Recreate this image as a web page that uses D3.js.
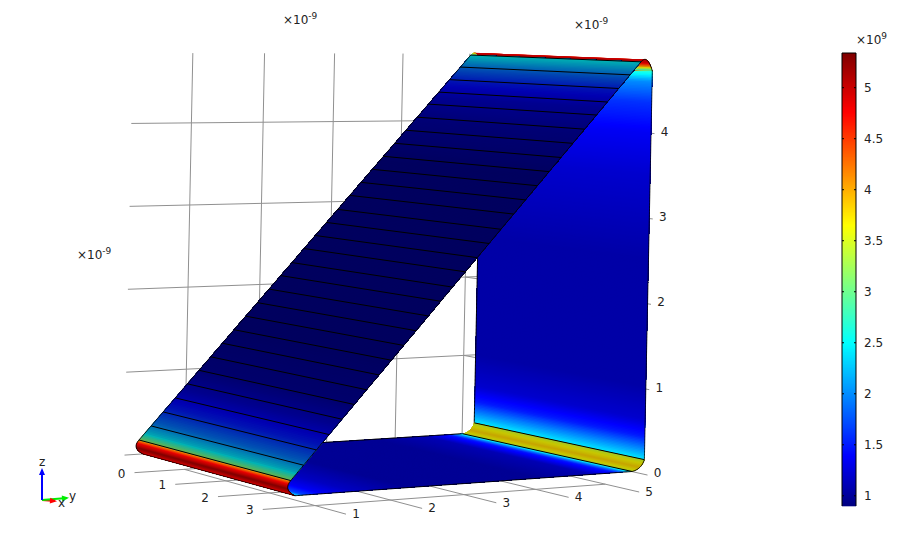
<!DOCTYPE html>
<html><head><meta charset="utf-8">
<script src="https://cdnjs.cloudflare.com/ajax/libs/d3/7.8.5/d3.min.js"></script>
<style>html,body{margin:0;padding:0;background:#fff}svg{display:block}text{font-family:"DejaVu Sans",sans-serif;font-size:12px;fill:#222}</style>
</head><body><svg id="c" width="911" height="542"></svg>
<script>
// axis ticks
const xTicks=[0,1,2,3], yTicks=[1,2,3,4,5], zTicks=[0,1,2,3,4], cbTicks=[1,1.5,2,2.5,3,3.5,4,4.5,5];
const gridFloor=-0.22, gridYMin=0.18, xTickStartY=0.32, gridYMax=5, yTickEndX=3.65, zTickEndX=3.8, gridZMax=4.85;
// axis limits and the camera calibration (projected corners of the box)
const xDomain=[0,3.5], yDomain=[0.2,5.18], zDomain=[0,5], colorDomain=[0.9,5.34];
const camA=[126,455], camB=[277,497], camC=[474,433], camE=[482,42];
const camG=-0.08, camH=0.06;
// surface field (position across the surface, value in 1e9)
const slopePos=[0.034,0.05,0.075,0.11,0.15,0.2,0.3,0.7,0.8,0.86,0.9,0.93,0.9666];
const slopeVal=[3.2,2.4,1.9,1.5,1.2,1.0,0.93,0.93,1.05,1.2,1.5,1.85,2.5];
const floorPos=[0.046,0.07,0.12,0.2,0.35,0.7,0.85,0.92,0.945,0.965];
const floorVal=[2.5,1.7,1.35,1.15,0.98,0.98,1.1,1.5,2.0,2.7];
const wallPos=[0.026,0.05,0.08,0.12,0.2,0.5,0.7,0.8,0.87,0.92,0.945];
const wallVal=[2.4,2.0,1.5,1.2,1.05,1.05,1.2,1.35,1.6,2.0,2.7];
const filletBottomPos=[0,0.2,0.5,0.8,1], filletBottomVal=[4.0,4.8,5.3,5.0,4.7];
const filletRightPos=[0,0.15,0.5,0.85,1], filletRightVal=[3.4,3.6,3.85,3.6,3.4];
const filletTopPos=[0,0.15,0.3,0.5,0.7,0.85,1], filletTopVal=[2.8,3.7,4.6,5.0,4.9,4.2,2.7];
// black mesh lines on the sloped face
const meshLines=[0.0344,0.0667,0.0990,0.1315,0.1642,0.1957,0.2274,0.2593,0.2912,0.3233,0.3555,0.3878,0.4202,0.4515,0.4854,0.5170,0.5487,0.5806,0.6149,0.6470,0.6792,0.7114,0.7438,0.7764,0.8091,0.8420,0.8723,0.9039,0.9359,0.9666];
// jet colour map stops
const jetPos=[0,0.11,0.36,0.62,0.87,1], jetCol=["#000080","#0000ff","#00ffff","#ffff00","#ff0000","#800000"];

const svg=d3.select("#c");
const xS=d3.scaleLinear(xDomain,[0,1]), yS=d3.scaleLinear(yDomain,[0,1]), zS=d3.scaleLinear(zDomain,[0,1]);
const cNorm=d3.scaleLinear(colorDomain,[0,1]);
const jet=d3.scaleLinear(jetPos,jetCol).interpolate(d3.interpolateRgb);
const color=(v,s=1)=>{const c=d3.rgb(jet(cNorm(v)));return d3.rgb(c.r*s,c.g*s,c.b*s).formatHex();};

// camera: projective map of the unit box
const aV=[0,1].map(i=>camB[i]*(1+camG)-camA[i]), bV=[0,1].map(i=>camC[i]*(1+camH)-camA[i]);
const cV=[0,1].map(i=>(camE[i]-camC[i])*(1+camH));
const cam=(u,v,z)=>{const w=1+camG*u+camH*v;return [0,1].map(i=>(camA[i]+aV[i]*u+bV[i]*v+cV[i]*z)/w);};
const P=(x,y,z)=>cam(xS(x),yS(y),zS(z));
const line=d3.line();

// grid
const gGrid=svg.append("g").attr("fill","none").attr("stroke","#909090").attr("stroke-width",1);
const seg=(p,q)=>gGrid.append("path").attr("d",line([p,q]));
yTicks.forEach(y=>{seg(P(0,y,0),P(0,y,gridZMax)); seg(P(0,y,gridFloor),P(yTickEndX,y,gridFloor));});
zTicks.forEach(z=>{seg(P(0,gridYMin,z),P(0,yDomain[1],z)); seg(P(0,gridYMax,z),P(zTickEndX,gridYMax,z));});
xTicks.forEach(x=>seg(P(x,xTickStartY,gridFloor),P(x,gridYMax,gridFloor)));

const label=(p,dx,dy,t)=>svg.append("text").attr("x",p[0]+dx).attr("y",p[1]+dy).attr("text-anchor","middle").attr("dominant-baseline","central").text(t);
xTicks.forEach(x=>label(P(x,xTickStartY,gridFloor),-13,1,x));
yTicks.forEach(y=>label(P(yTickEndX,y,gridFloor),10,0,y));
zTicks.forEach(z=>label(P(zTickEndX,gridYMax,z),10,-2,z));

// surfaces: each band is painted from its start to the far end, so no seams appear
function strips(pts,shade){
  const g0=svg.append("g");
  pts.slice(0,-1).forEach((a,i)=>{
    const b=pts[i+1], c=color((a.val+b.val)/2,shade);
    const rest=pts.slice(i);
    g0.append("path").attr("d",line(rest.map(p=>cam(0,p.v,p.z)).concat(rest.slice().reverse().map(p=>cam(1,p.v,p.z))))+"Z").attr("fill",c);
  });
}
function straight(pos,val,f,n){
  const sc=d3.scaleLinear(pos,val), e=d3.extent(pos);
  return d3.range(n+1).map(i=>{const t=e[0]+(e[1]-e[0])*i/n;return Object.assign(f(t),{val:sc(t)});});
}
function bez(p0,c,p2,pos,val,n){
  const sc=d3.scaleLinear(pos,val);
  return d3.range(n+1).map(i=>{const s=i/n,m=1-s;return {v:m*m*p0[0]+2*m*s*c[0]+s*s*p2[0],z:m*m*p0[1]+2*m*s*c[1]+s*s*p2[1],val:sc(s)};});
}
const edge=(pts,w=1,col="#000")=>svg.append("path").attr("d",line(pts)).attr("fill","none").attr("stroke",col).attr("stroke-width",w);
const across=(v,z,w=1)=>edge([cam(0,v,z),cam(1,v,z)],w);
const along=(u,list,w=1)=>edge(list.map(d=>cam(u,d.v,d.z)),w);

const wallPts=straight(wallPos,wallVal,t=>({v:1,z:t}),260);
const floorPts=straight(floorPos,floorVal,t=>({v:t,z:0}),260);
const slopePts=straight(slopePos,slopeVal,t=>({v:t,z:t}),300);
const fR=bez([0.965,0],[0.992,0.004],[1,0.026],filletRightPos,filletRightVal,24);
const fT=bez([0.9666,0.9666],[0.985,0.985],[1,0.945],filletTopPos,filletTopVal,24);
const fB=bez([0.0344,0.0344],[0.015,0.015],[0.046,0],filletBottomPos,filletBottomVal,24);

strips(wallPts,1); along(0,wallPts,1); along(1,wallPts,0.8);
strips(floorPts,1); along(0,floorPts,1); along(1,floorPts,1);
strips(fR,0.78); along(1,fR,1); across(0.965,0,1); across(1,0.026,1);
strips(fT,0.88); along(1,fT,1);
strips(fB,0.93); along(0,fB,1); along(1,fB,1); across(0.046,0,0.8);
strips(slopePts,0.7); along(0,slopePts,0.9); along(1,slopePts,0.9);
meshLines.forEach(t=>across(t,t,1));

// colour bar
const cbY=d3.scaleLinear(colorDomain,[506,53]);
const cbX0=842,cbX1=856;
const bar=svg.append("g");
d3.range(506,53,-1).forEach(y=>bar.append("rect").attr("x",cbX0).attr("width",cbX1-cbX0).attr("y",y-1).attr("height",1.3).attr("fill",color(cbY.invert(y-0.5))));
svg.append("path").attr("d",`M${cbX0},${cbY(colorDomain[0])}V${cbY(colorDomain[1])}H${cbX1}V${cbY(colorDomain[0])}`).attr("fill","none").attr("stroke","#000");
cbTicks.forEach(t=>{
  const y=cbY(t);
  svg.append("path").attr("d",`M${cbX0},${y}h2M${cbX1},${y}h-2`).attr("stroke","#000");
  svg.append("text").attr("x",864).attr("y",y).attr("dominant-baseline","central").text(t);
});

// exponent labels
function expo(x,y,e){
  const t=svg.append("text").attr("x",x).attr("y",y);
  t.append("tspan").text("×10");
  t.append("tspan").attr("dy",-5).style("font-size","9px").text(e);
}
expo(283,24,"-9"); expo(574,29,"-9"); expo(77,259,"-9"); expo(856,44,"9");

// orientation triad
const triad=[{n:"x",c:"#ff0000",d:[13,1]},{n:"y",c:"#00ee00",d:[25,-2]},{n:"z",c:"#0000ff",d:[0,-30]}];
const tO=[42,500];
triad.forEach(a=>{
  const e=[tO[0]+a.d[0],tO[1]+a.d[1]];
  svg.append("path").attr("d",line([tO,e])).attr("stroke",a.c).attr("stroke-width",2);
});
triad.slice().reverse().forEach(a=>{
  const e=[tO[0]+a.d[0],tO[1]+a.d[1]], L=Math.hypot(a.d[0],a.d[1]), ux=a.d[0]/L, uy=a.d[1]/L;
  const tip=[e[0]+ux*2,e[1]+uy*2], b=[e[0]-ux*5,e[1]-uy*5];
  svg.append("path").attr("d",line([tip,[b[0]-uy*3,b[1]+ux*3],[b[0]+uy*3,b[1]-ux*3]])+"Z").attr("fill",a.c);
});
svg.append("text").attr("x",39).attr("y",466).text("z");
svg.append("text").attr("x",69).attr("y",500).text("y");
svg.append("text").attr("x",58).attr("y",507).text("x");
</script></body></html>
